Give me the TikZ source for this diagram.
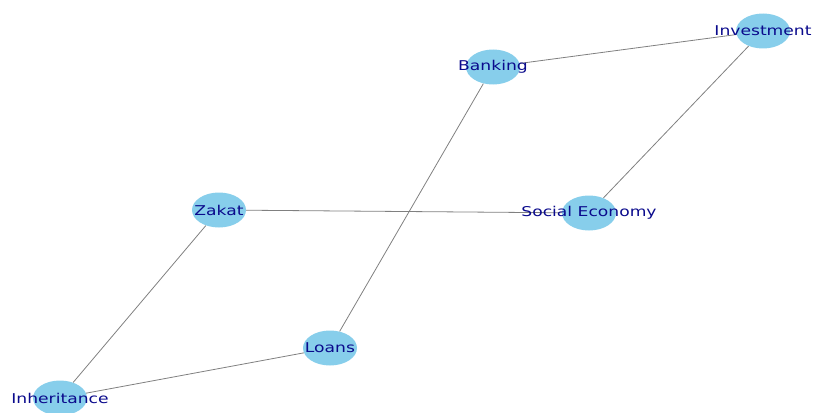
\documentclass[tikz,border=0pt]{standalone}
\usepackage{fontspec}
\usetikzlibrary{shapes.geometric,backgrounds}
\newfontfamily\lblfont[FakeStretch=1.27]{DejaVu Sans}
\definecolor{nodeblue}{RGB}{135,206,235}
\definecolor{textblue}{RGB}{10,10,140}
\definecolor{edgegray}{RGB}{128,128,128}

\begin{document}
\begin{tikzpicture}[x=1pt,y=-1pt]
\tikzstyle{topic}=[ellipse,fill=nodeblue,draw=none,minimum width=54pt,minimum height=35pt,inner sep=0pt]
\tikzstyle{lbl}=[text=textblue,font=\lblfont\fontsize{13.5}{16}\selectfont,inner sep=0pt]
\tikzstyle{link}=[draw=edgegray,line width=0.8pt]

\useasboundingbox (0,0) rectangle (813,412);
\clip (0,0) rectangle (813,412);

\node[topic,label={[lbl]center:Investment}] (investment) at (763,31) {};
\node[topic,label={[lbl]center:Banking}] (banking) at (493,67) {};
\node[topic,label={[lbl]center:Zakat}] (zakat) at (219,210) {};
\node[topic,label={[lbl]center:Social Economy}] (social) at (589,213) {};
\node[topic,label={[lbl]center:Loans}] (loans) at (330,348) {};
\node[topic,label={[lbl]center:Inheritance}] (inheritance) at (60,398) {};

\begin{scope}[on background layer]
\draw[link] (banking) -- (investment);
\draw[link] (investment) -- (social);
\draw[link] (banking) -- (loans);
\draw[link] (zakat) -- (social);
\draw[link] (zakat) -- (inheritance);
\draw[link] (inheritance) -- (loans);
\end{scope}

\end{tikzpicture}
\end{document}
